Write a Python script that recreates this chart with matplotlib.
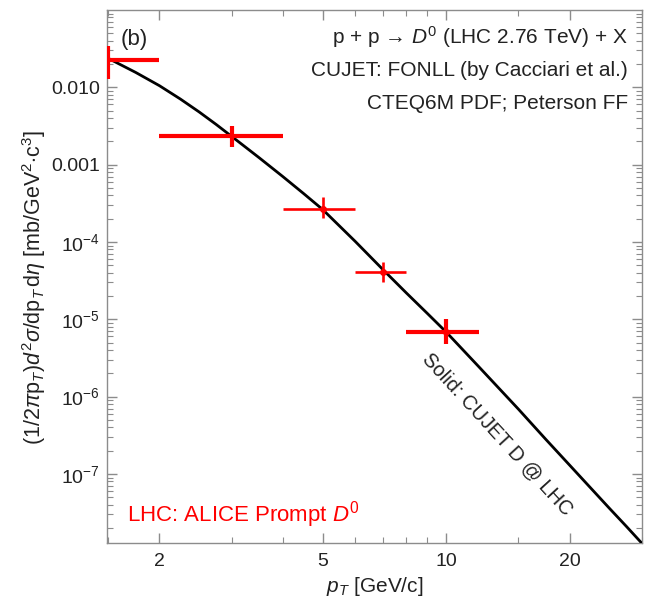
import numpy as np
import matplotlib
matplotlib.use("Agg")
import matplotlib.pyplot as plt
from matplotlib.ticker import FixedLocator, LogLocator, NullFormatter

plt.rcParams["font.family"] = ["Liberation Sans", "DejaVu Sans"]
plt.rcParams["mathtext.fontset"] = "custom"
plt.rcParams["mathtext.rm"] = "Liberation Sans"
plt.rcParams["mathtext.it"] = "Liberation Sans:italic"
plt.rcParams["mathtext.bf"] = "Liberation Sans:bold"

# ALICE prompt D0 data (pT bin centre, half width, value, upper/lower error)
pt = [1.5, 3.0, 5.0, 7.0, 10.0]
pt_lo = [0.5, 1.0, 1.0, 1.0, 2.0]
pt_hi = [0.5, 1.0, 1.0, 1.0, 2.0]
dsig = [0.0224, 0.00232, 2.70e-4, 4.1e-5, 6.8e-6]
dsig_up = [0.034, 0.00313, 3.78e-4, 5.5e-5, 1.0e-5]
dsig_dn = [0.0127, 0.00168, 2.02e-4, 3.04e-5, 4.75e-6]
thick = [True, True, False, False, True]

# CUJET FONLL curve
curve_pt = [1.5, 1.75, 2.0, 2.25, 2.5, 2.75, 3.0, 3.5, 4.0, 4.5, 5.0, 6.0, 7.0,
            8.0, 9.0, 10.0, 12.0, 15.0, 17.5, 20.0, 22.5, 25.0, 27.5, 30.0]
curve_y = [0.0237, 0.0156, 0.0105, 0.00705, 0.0048, 0.00331, 0.00232, 0.00123,
           7.0e-4, 4.2e-4, 2.63e-4, 1.02e-4, 4.44e-5, 2.19e-5, 1.19e-5, 6.85e-6,
           2.45e-6, 6.9e-7, 2.8e-7, 1.3e-7, 6.6e-8, 3.6e-8, 2.1e-8, 1.27e-8]

fig = plt.figure(figsize=(6.46, 6.02), dpi=100)
ax = fig.add_axes([0.1656, 0.098, 0.828, 0.8854])
ax.set_xscale("log")
ax.set_yscale("log")

ax.plot(curve_pt, curve_y, color="black", lw=2.0, zorder=3)

for i in range(len(pt)):
    lw = 3.0 if thick[i] else 1.9
    yerr = [[dsig[i] - dsig_dn[i]], [dsig_up[i] - dsig[i]]]
    xerr = [[pt_lo[i]], [pt_hi[i]]]
    ax.errorbar([pt[i]], [dsig[i]], xerr=xerr, yerr=yerr,
                fmt="o" if (not thick[i] or i == 4) else "none",
                ms=4, color="red", ecolor="red", elinewidth=lw, capsize=0, zorder=4)

ax.set_xlim(1.49, 30)
ax.set_ylim(1.28e-8, 0.1)

gray = "#8c8c8c"
for s in ax.spines.values():
    s.set_color(gray)
    s.set_linewidth(1.0)

ax.xaxis.set_major_locator(FixedLocator([2, 5, 10, 20]))
ax.xaxis.set_minor_locator(FixedLocator([1.5, 3, 4, 6, 7, 8, 9, 15, 30]))
ax.set_xticklabels(["2", "5", "10", "20"])
ax.xaxis.set_minor_formatter(NullFormatter())

ax.yaxis.set_major_locator(FixedLocator([1e-7, 1e-6, 1e-5, 1e-4, 1e-3, 1e-2]))
ax.set_yticklabels(["$10^{-7}$", "$10^{-6}$", "$10^{-5}$", "$10^{-4}$", "0.001", "0.010"])
ax.yaxis.set_minor_locator(LogLocator(base=10, subs=np.arange(2, 10), numticks=20))
ax.yaxis.set_minor_formatter(NullFormatter())

ax.tick_params(which="both", direction="in", top=True, right=True, color=gray,
               labelsize=14, labelcolor="#222222")
ax.tick_params(which="major", length=7, width=1.0)
ax.tick_params(which="minor", length=4, width=0.8)
ax.tick_params(axis="x", pad=7)
ax.tick_params(axis="y", pad=5)

ax.set_xlabel(r"$p_T$ [GeV/c]", fontsize=15, color="#222222", labelpad=4)
ax.set_ylabel(r"(1/2$\pi$p$_T$)$d^2\sigma$/dp$_T\,$d$\eta$ [mb/GeV$^2$$\cdot$c$^3$]",
              fontsize=15.5, color="#222222")
ax.yaxis.set_label_coords(-0.11, 0.48)

ax.text(0.025, 0.945, "(b)", transform=ax.transAxes, fontsize=16, color="#222222",
        ha="left", va="center")
ax.text(0.974, 0.95, r"p + p → $D^0$ (LHC 2.76 TeV) + X", transform=ax.transAxes,
        fontsize=15, color="#222222", ha="right", va="center")
ax.text(0.974, 0.887, "CUJET: FONLL (by Cacciari et al.)", transform=ax.transAxes,
        fontsize=15, color="#222222", ha="right", va="center")
ax.text(0.974, 0.824, "CTEQ6M PDF; Peterson FF", transform=ax.transAxes,
        fontsize=15, color="#222222", ha="right", va="center")
ax.text(0.037, 0.053, r"LHC: ALICE Prompt $D^0$", transform=ax.transAxes,
        fontsize=16, color="red", ha="left", va="center")
ax.text(0.73, 0.203, "Solid: CUJET D @ LHC", transform=ax.transAxes,
        fontsize=14.5, color="#222222", ha="center", va="center", rotation=-47.5)

fig.savefig("out.png", dpi=100)
